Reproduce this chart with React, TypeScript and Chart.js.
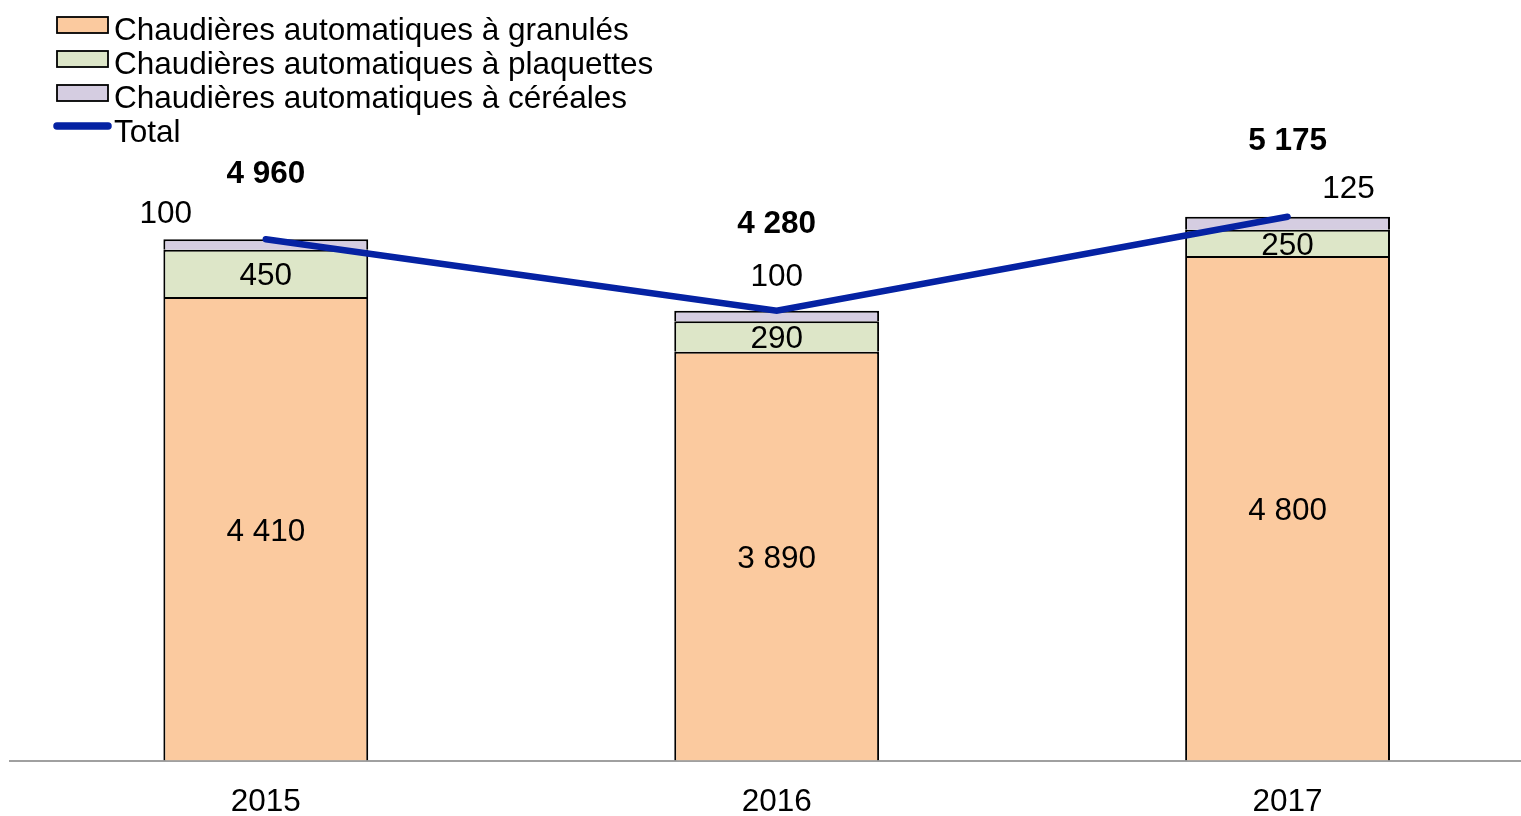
import { useEffect, useRef } from 'react';
import { Chart, registerables } from 'chart.js';

Chart.register(...registerables);

const categories = ['2015', '2016', '2017'];
const granules = [4410, 3890, 4800];
const plaquettes = [450, 290, 250];
const cereales = [100, 100, 125];
const totals = [4960, 4280, 5175];
const seriesNames = [
  'Chaudières automatiques à granulés',
  'Chaudières automatiques à plaquettes',
  'Chaudières automatiques à céréales',
  'Total',
];

const COLORS = {
  granules: '#FBCA9F',
  plaquettes: '#DDE6C8',
  cereales: '#D5CDE1',
  total: '#0522A3',
  axis: '#A0A0A0',
};

const FONT_FAMILY = '"Liberation Sans", Arial, Helvetica, sans-serif';
const FONT_SIZE = 31.5;

// label placement (px) relative to the top of each stack
const cerealesLabelOffset = [
  { dx: -100, dy: -24.5 },
  { dx: 0, dy: -33 },
  { dx: 61, dy: -27 },
];
const totalLabelOffset = [
  { dx: 0, dy: -64.5 },
  { dx: 0, dy: -86 },
  { dx: 0, dy: -75 },
];

const fmt = (n: number) => String(n).replace(/\B(?=(\d{3})+(?!\d))/g, ' ');

const labelsPlugin = {
  id: 'customLabels',
  afterDatasetsDraw(chart: any) {
    const ctx = chart.ctx as CanvasRenderingContext2D;
    ctx.save();
    ctx.fillStyle = '#000';
    ctx.textAlign = 'center';
    ctx.textBaseline = 'middle';
    const mG = chart.getDatasetMeta(0);
    const mP = chart.getDatasetMeta(1);
    const mC = chart.getDatasetMeta(2);
    const mT = chart.getDatasetMeta(3);
    ctx.font = `${FONT_SIZE}px ${FONT_FAMILY}`;
    mG.data.forEach((el: any, i: number) => {
      ctx.fillText(fmt(granules[i]), el.x, (el.y + el.base) / 2 + 3.5);
    });
    mP.data.forEach((el: any, i: number) => {
      ctx.fillText(fmt(plaquettes[i]), el.x, (el.y + el.base) / 2 + 3);
    });
    mC.data.forEach((el: any, i: number) => {
      const o = cerealesLabelOffset[i];
      ctx.fillText(fmt(cereales[i]), el.x + o.dx, el.y + o.dy);
    });
    ctx.font = `bold ${FONT_SIZE}px ${FONT_FAMILY}`;
    mT.data.forEach((el: any, i: number) => {
      const o = totalLabelOffset[i];
      ctx.fillText(fmt(totals[i]), el.x + o.dx, el.y + o.dy);
    });
    ctx.restore();
  },
};

const legendPlugin = {
  id: 'customLegend',
  afterDraw(chart: any) {
    const ctx = chart.ctx as CanvasRenderingContext2D;
    ctx.save();
    const fills = [COLORS.granules, COLORS.plaquettes, COLORS.cereales];
    const rowH = 34;
    const textX = 114;
    for (let i = 0; i < 4; i++) {
      const baseY = 39.5 + rowH * i;
      if (i < 3) {
        const bx = 57;
        const by = 17 + rowH * i;
        ctx.fillStyle = fills[i];
        ctx.fillRect(bx, by, 51, 16);
        ctx.strokeStyle = '#000';
        ctx.lineWidth = 1.8;
        ctx.strokeRect(bx, by, 51, 16);
      } else {
        ctx.strokeStyle = COLORS.total;
        ctx.lineWidth = 7.5;
        ctx.lineCap = 'round';
        ctx.beginPath();
        ctx.moveTo(57, 126);
        ctx.lineTo(108, 126);
        ctx.stroke();
      }
      ctx.fillStyle = '#000';
      ctx.font = `${FONT_SIZE}px ${FONT_FAMILY}`;
      ctx.textAlign = 'left';
      ctx.textBaseline = 'alphabetic';
      ctx.fillText(seriesNames[i], textX, baseY);
    }
    ctx.restore();
  },
};

export default function App() {
  const canvasRef = useRef<HTMLCanvasElement | null>(null);

  useEffect(() => {
    if (!canvasRef.current) return;
    const barCommon = {
      type: 'bar' as const,
      borderColor: '#000',
      borderWidth: 2,
      barPercentage: 0.401,
      categoryPercentage: 1,
      stack: 'bars',
      order: 1,
    };
    const chart = new Chart(canvasRef.current, {
      type: 'bar',
      data: {
        labels: categories,
        datasets: [
          { ...barCommon, label: seriesNames[0], data: granules, backgroundColor: COLORS.granules },
          { ...barCommon, label: seriesNames[1], data: plaquettes, backgroundColor: COLORS.plaquettes },
          { ...barCommon, label: seriesNames[2], data: cereales, backgroundColor: COLORS.cereales },
          {
            type: 'line' as const,
            label: seriesNames[3],
            data: totals,
            borderColor: COLORS.total,
            backgroundColor: COLORS.total,
            borderWidth: 6.5,
            borderCapStyle: 'round',
            pointRadius: 0,
            pointHoverRadius: 0,
            tension: 0,
            stack: 'line',
            order: -1,
          } as any,
        ],
      },
      options: {
        animation: false,
        responsive: true,
        maintainAspectRatio: false,
        layout: { padding: { top: 24.9, left: 10.35, right: 0, bottom: 0 } },
        plugins: {
          legend: { display: false },
          tooltip: { enabled: false },
        },
        scales: {
          x: {
            stacked: true,
            grid: { display: false, drawTicks: false },
            border: { display: true, color: COLORS.axis, width: 2 },
            ticks: {
              color: '#000',
              padding: 23,
              font: { family: FONT_FAMILY, size: FONT_SIZE },
            },
            afterFit: (scale: any) => {
              scale.height = 55.5;
            },
          },
          y: {
            stacked: true,
            display: false,
            min: 0,
            max: 7000,
          },
        },
      },
      plugins: [labelsPlugin, legendPlugin],
    });
    return () => chart.destroy();
  }, []);

  return (
    <div style={{ position: 'fixed', left: 0, top: 0, width: 1543, height: 816, background: '#fff', overflow: 'hidden' }}>
      <canvas ref={canvasRef} />
    </div>
  );
}
